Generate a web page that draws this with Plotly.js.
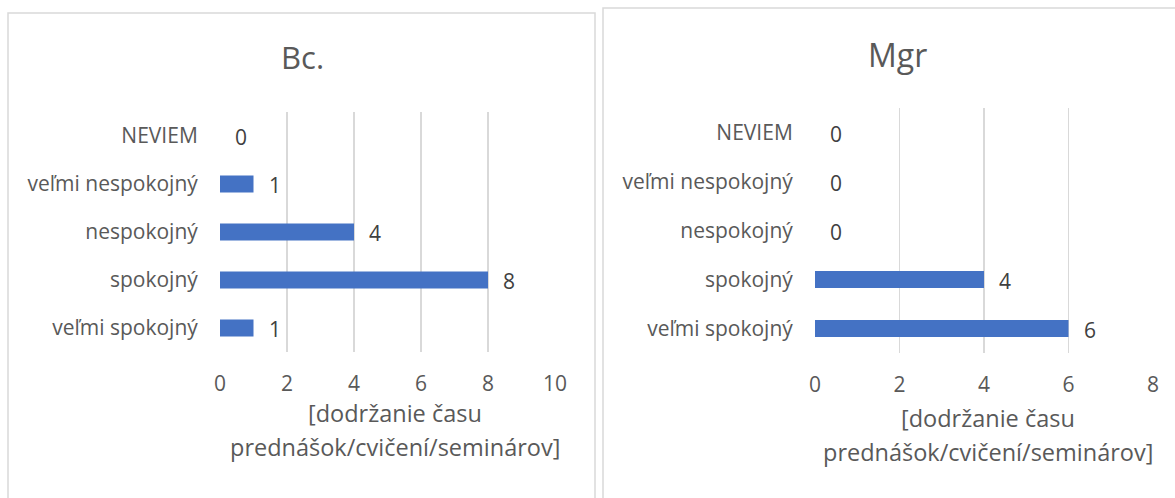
<!DOCTYPE html>
<html>
<head>
<meta charset="utf-8">
<script src="https://cdn.plot.ly/plotly-3.0.1.min.js"></script>
<style>
html,body{margin:0;padding:0;background:#fff;}
#chart{width:1175px;height:498px;}
</style>
</head>
<body>
<div id="chart"></div>
<script>
// ---- data ----
const categories = ['veľmi spokojný', 'spokojný', 'nespokojný', 'veľmi nespokojný', 'NEVIEM'];
const bcValues = [1, 8, 4, 1, 0];
const mgrValues = [6, 4, 0, 0, 0];
const panelTitles = ['Bc.', 'Mgr'];
const axisTitleLines = ['[dodržanie času', 'prednášok/cvičení/seminárov]'];
const bcTicks = [0, 2, 4, 6, 8, 10];
const mgrTicks = [0, 2, 4, 6, 8];

// ---- layout helpers ----
const W = 1175, H = 498;
const px = v => v / W;
const py = v => 1 - v / H;
const FONT = '"Open Sans", sans-serif';
const GREY = '#595959';
const LABEL = '#404040';
const GRID = '#d9d9d9';
const BAR = '#4472C4';
const FS = 21;

const traces = [
  {type: 'bar', orientation: 'h', x: bcValues, y: categories, xaxis: 'x', yaxis: 'y',
   marker: {color: BAR}, width: 0.35, hoverinfo: 'none'},
  {type: 'bar', orientation: 'h', x: mgrValues, y: categories, xaxis: 'x2', yaxis: 'y2',
   marker: {color: BAR}, width: 0.35, hoverinfo: 'none'}
];

function xax(domain, ticks, anchor) {
  return {
    domain: domain, range: [0, ticks[ticks.length - 1]], tickvals: ticks, anchor: anchor,
    showgrid: true, gridcolor: GRID, gridwidth: 1.3, zeroline: false,
    showline: false, ticks: 'outside', ticklen: 13, tickcolor: 'rgba(0,0,0,0)',
    tickfont: {family: FONT, size: FS, color: GREY}, fixedrange: true
  };
}
function yax(domain, anchor) {
  return {
    domain: domain, type: 'category', categoryorder: 'array', categoryarray: categories,
    anchor: anchor, showgrid: false, zeroline: false, showline: false,
    ticks: 'outside', ticklen: 17, tickcolor: 'rgba(0,0,0,0)',
    tickfont: {family: FONT, size: FS, color: GREY}, fixedrange: true
  };
}

const annotations = [];
// data labels
[[bcValues, 'x', 'y'], [mgrValues, 'x2', 'y2']].forEach(([vals, xr, yr]) => {
  vals.forEach((v, i) => {
    annotations.push({x: v, y: categories[i], xref: xr, yref: yr, text: String(v),
      showarrow: false, xanchor: 'left', yanchor: 'middle', xshift: 13, yshift: -1,
      font: {family: FONT, size: FS, color: LABEL}});
  });
});
// panel titles
annotations.push({x: px(302), y: py(57), xref: 'paper', yref: 'paper', text: panelTitles[0],
  showarrow: false, xanchor: 'center', yanchor: 'middle', font: {family: FONT, size: 31, color: GREY}});
annotations.push({x: px(897), y: py(54), xref: 'paper', yref: 'paper', text: panelTitles[1],
  showarrow: false, xanchor: 'center', yanchor: 'middle', font: {family: FONT, size: 32, color: GREY}});
// axis titles
[[395, 413], [988, 418]].forEach(([cx, cy]) => {
  axisTitleLines.forEach((line, j) => {
    annotations.push({x: px(cx), y: py(cy + j * 34), xref: 'paper', yref: 'paper', text: line,
      showarrow: false, xanchor: 'center', yanchor: 'middle', font: {family: FONT, size: 23.5, color: GREY}});
  });
});

const shapes = [
  {type: 'rect', xref: 'paper', yref: 'paper', x0: px(8), x1: px(595), y0: py(520), y1: py(13),
   line: {color: GRID, width: 1.5}, fillcolor: 'rgba(0,0,0,0)', layer: 'below'},
  {type: 'rect', xref: 'paper', yref: 'paper', x0: px(603), x1: px(1190), y0: py(520), y1: py(8),
   line: {color: GRID, width: 1.5}, fillcolor: 'rgba(0,0,0,0)', layer: 'below'}
];

const layout = {
  width: W, height: H, margin: {l: 0, r: 0, t: 0, b: 0},
  paper_bgcolor: '#fff', plot_bgcolor: 'rgba(0,0,0,0)',
  showlegend: false, font: {family: FONT, color: GREY},
  xaxis: xax([px(220), px(555)], bcTicks, 'y'),
  yaxis: yax([py(352), py(112)], 'x'),
  xaxis2: xax([px(815), px(1153)], mgrTicks, 'y2'),
  yaxis2: yax([py(353), py(108)], 'x2'),
  annotations: annotations, shapes: shapes
};

Plotly.newPlot('chart', traces, layout, {displayModeBar: false, staticPlot: true});
</script>
</body>
</html>
